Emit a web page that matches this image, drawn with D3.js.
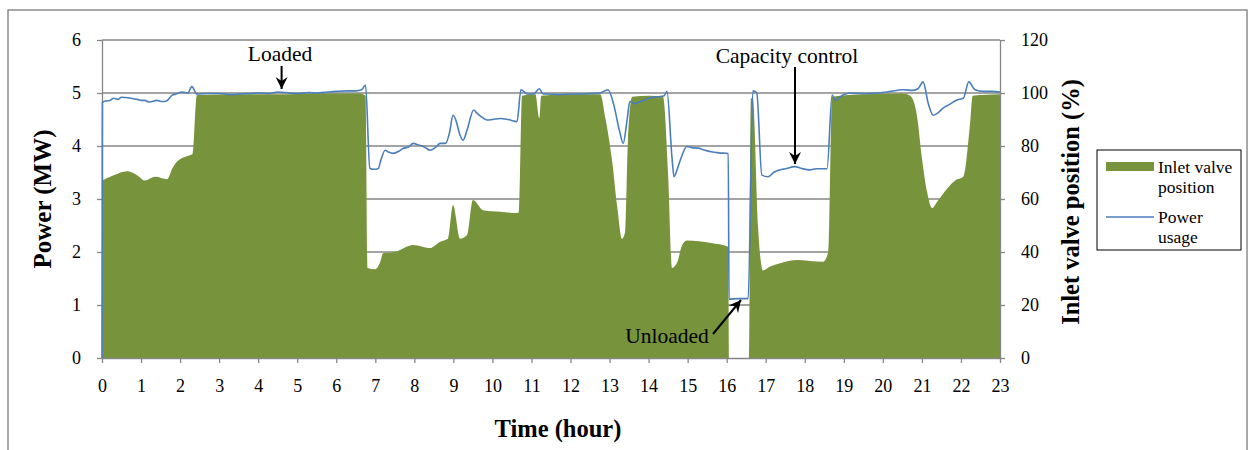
<!DOCTYPE html>
<html>
<head>
<meta charset="utf-8">
<script src="https://cdn.jsdelivr.net/npm/d3@7"></script>
<style>
  body { margin: 0; background: #fff; }
  svg text { font-family: "Liberation Serif", "Times New Roman", serif; fill: #000; }
</style>
</head>
<body>
<svg id="chart" width="1250" height="450"></svg>
<script>
// inlet valve position (%) - right axis
const valveHours = [0, 0.3, 0.64, 0.9, 1.1, 1.36, 1.67, 1.8, 1.95, 2.25, 2.32, 2.43, 3.5, 4.5, 5.5, 6.6, 6.75,
    6.8, 7.0, 7.12, 7.2, 7.5, 7.97, 8.2, 8.4, 8.66, 8.86, 8.99, 9.17, 9.35, 9.5, 9.76, 10.2, 10.63, 10.68,
    10.76, 11.1, 11.2, 11.25, 12.0, 12.76, 12.9, 13.06, 13.2, 13.32, 13.4, 13.47, 13.58, 14.0, 14.37, 14.5,
    14.6, 14.73, 14.86, 14.98, 15.6, 16.04, 16.06, 16.57, 16.62, 16.67, 16.8, 16.93, 17.1, 17.37, 17.8,
    18.47, 18.6, 18.7, 19.5, 20.5, 20.7, 20.87, 21.0, 21.13, 21.26, 21.39, 21.65, 21.85, 22.06, 22.23, 22.3, 23];
const valvePct = [67, 69, 70.5, 69, 67, 68.4, 67.5, 71.5, 74.5, 76.5, 77, 99.2, 99.5, 99.5, 99.8, 99.8, 99,
    34, 33.5, 36, 39.5, 40, 42.6, 42, 41.5, 43.9, 45, 57.7, 45, 46.4, 59.6, 55.8, 55.2, 54.7, 55,
    99, 99.5, 90.5, 99, 99.5, 99.5, 90, 75, 56.6, 45, 47.6, 81.6, 98.6, 99, 98.5, 69,
    34, 36, 42.6, 44.3, 43.4, 42, 0, 0, 98, 98, 50, 33, 34.4, 35.8, 37,
    36.3, 40, 98.6, 99.5, 99.8, 99, 91.7, 75.5, 62.8, 56.6, 59, 64, 67, 68.4, 88, 99, 99.5];

// power usage (MW) - left axis
const powerHours = [0, 0.01, 0.1, 0.2, 0.3, 0.4, 0.5, 0.67, 0.8, 0.9, 1.0, 1.1, 1.2, 1.28, 1.4, 1.54, 1.65, 1.8,
    1.9, 2.05, 2.2, 2.3, 2.43, 2.7, 3.0, 3.3, 3.5, 3.8, 4.0, 4.3, 4.5, 4.8, 5.0, 5.3, 5.5, 5.8, 6.0, 6.3, 6.5,
    6.65, 6.75, 6.86, 6.95, 7.07, 7.15, 7.25, 7.35, 7.45, 7.6, 7.7, 7.85, 7.97, 8.1, 8.2, 8.3, 8.4, 8.55,
    8.66, 8.8, 8.9, 8.99, 9.08, 9.15, 9.25, 9.35, 9.52, 9.6, 9.7, 9.86, 10.0, 10.2, 10.4, 10.63, 10.73, 10.9,
    11.05, 11.2, 11.3, 11.4, 11.7, 12.0, 12.3, 12.5, 12.75, 12.96, 13.1, 13.25, 13.35, 13.45, 13.52, 13.65,
    13.8, 14.0, 14.24, 14.4, 14.47, 14.6, 14.65, 14.75, 14.86, 14.98, 15.1, 15.27, 15.4, 15.6, 15.8, 16.04,
    16.06, 16.3, 16.55, 16.67, 16.77, 16.9, 17.06, 17.2, 17.37, 17.5, 17.75, 17.9, 18.13, 18.3, 18.57, 18.7,
    18.78, 19.0, 19.16, 19.5, 19.8, 20.1, 20.52, 20.77, 20.9, 21.03, 21.16, 21.29, 21.4, 21.55, 21.7, 21.9,
    22.06, 22.2, 22.36, 22.57, 22.8, 23];
const powerMW = [0, 4.82, 4.85, 4.86, 4.9, 4.88, 4.92, 4.91, 4.89, 4.88, 4.86, 4.86, 4.83, 4.84, 4.86, 4.84, 4.85, 4.96,
    4.98, 5.02, 5.0, 5.12, 4.98, 4.99, 4.99, 4.97, 4.98, 4.99, 5.0, 4.99, 5.02, 5.0, 4.99, 5.01, 5.0, 5.02, 5.03, 5.04, 5.04,
    5.06, 5.15, 3.58, 3.56, 3.57, 3.75, 3.92, 3.88, 3.86, 3.9, 3.95, 3.98, 4.05, 4.02, 4.0, 3.96, 3.92, 3.98,
    4.05, 4.05, 4.25, 4.58, 4.45, 4.25, 4.11, 4.3, 4.68, 4.62, 4.56, 4.49, 4.5, 4.52, 4.5, 4.46, 5.06, 4.98,
    4.98, 5.08, 4.98, 4.98, 4.97, 4.98, 4.98, 4.99, 5.0, 5.06, 4.8, 4.3, 4.05, 4.5, 4.84, 4.8,
    4.84, 4.9, 4.93, 4.95, 5.03, 3.77, 3.42, 3.6, 3.83, 3.99, 3.97, 3.96, 3.93, 3.89, 3.87, 3.86,
    1.11, 1.12, 1.12, 5.04, 5.0, 3.45, 3.42, 3.5, 3.55, 3.57, 3.61, 3.58, 3.55, 3.57, 3.57, 4.96,
    4.87, 4.97, 5.0, 4.99, 5.0, 5.02, 5.06, 5.05, 5.08, 5.21, 4.81, 4.58, 4.62, 4.72, 4.78, 4.87,
    4.9, 5.21, 5.06, 5.03, 5.03, 5.02];

const hourTicks = d3.range(0, 24);
const mwTicks = [0, 1, 2, 3, 4, 5, 6];
const pctTicks = [0, 20, 40, 60, 80, 100, 120];

const svg = d3.select('#chart');
const plotLeft = 102, plotRight = 1000, plotTop = 40, plotBottom = 358;

const x = d3.scaleLinear().domain([0, 23]).range([plotLeft, plotRight]);
const yMW = d3.scaleLinear().domain([0, 6]).range([plotBottom, plotTop]);
const yPct = d3.scaleLinear().domain([0, 120]).range([plotBottom, plotTop]);

// outer frame
svg.append('rect')
    .attr('x', 8).attr('y', 10)
    .attr('width', 1239).attr('height', 460)
    .attr('fill', 'none')
    .attr('stroke', '#8c8c8c')
    .attr('stroke-width', 1.5);

// gridlines
svg.append('g').selectAll('line')
    .data(mwTicks.slice(1))
    .join('line')
    .attr('x1', plotLeft).attr('x2', plotRight)
    .attr('y1', d => yMW(d)).attr('y2', d => yMW(d))
    .attr('stroke', '#868686')
    .attr('stroke-width', 1.3);

// valve area
const valve = valveHours.map((h, i) => [h, valvePct[i]]);
svg.append('path')
    .datum(valve)
    .attr('fill', '#77933c')
    .attr('d', d3.area()
        .x(d => x(d[0]))
        .y0(yPct(0))
        .y1(d => yPct(d[1]))
        .curve(d3.curveMonotoneX));

// axes
function styleAxis(g) {
    g.select('.domain').attr('stroke', '#868686').attr('stroke-width', 1.3);
    g.selectAll('.tick line').attr('stroke', '#868686').attr('stroke-width', 1.3);
    g.selectAll('.tick text')
        .attr('font-size', '18px')
        .attr('font-family', '"Liberation Serif", "Times New Roman", serif')
        .attr('fill', '#000');
}

svg.append('g')
    .attr('transform', `translate(${plotLeft},0)`)
    .call(d3.axisLeft(yMW).tickValues(mwTicks).tickFormat(d3.format('d'))
        .tickSize(5).tickSizeOuter(0).tickPadding(16))
    .call(styleAxis);

svg.append('g')
    .attr('transform', `translate(${plotRight},0)`)
    .call(d3.axisRight(yPct).tickValues(pctTicks).tickSize(5).tickSizeOuter(0).tickPadding(16))
    .call(styleAxis);

svg.append('g')
    .attr('transform', `translate(0,${plotBottom})`)
    .call(d3.axisBottom(x).tickValues(hourTicks).tickSize(5).tickSizeOuter(0).tickPadding(16))
    .call(styleAxis);

// power line
const power = powerHours.map((h, i) => [h, powerMW[i]]);
svg.append('path')
    .datum(power)
    .attr('fill', 'none')
    .attr('stroke', '#4a7ebb')
    .attr('stroke-width', 1.6)
    .attr('d', d3.line().x(d => x(d[0])).y(d => yMW(d[1])).curve(d3.curveMonotoneX));

// axis titles
svg.append('text')
    .attr('transform', 'translate(51,199) rotate(-90)')
    .attr('text-anchor', 'middle')
    .attr('font-size', '25px')
    .attr('font-weight', 'bold')
    .text('Power (MW)');

svg.append('text')
    .attr('transform', 'translate(1079,202) rotate(-90)')
    .attr('text-anchor', 'middle')
    .attr('font-size', '24.5px')
    .attr('font-weight', 'bold')
    .text('Inlet valve position (%)');

svg.append('text')
    .attr('x', 558).attr('y', 437)
    .attr('text-anchor', 'middle')
    .attr('font-size', '24.5px')
    .attr('font-weight', 'bold')
    .text('Time (hour)');

// annotations
svg.append('defs').append('marker')
    .attr('id', 'head')
    .attr('markerUnits', 'userSpaceOnUse')
    .attr('markerWidth', 14).attr('markerHeight', 14)
    .attr('refX', 12).attr('refY', 7)
    .attr('orient', 'auto')
    .append('path')
    .attr('d', 'M0,1 L12,7 L0,13 L4,7 Z')
    .attr('fill', '#000');

function note(label, tx, ty, x1, y1, x2, y2) {
    svg.append('text')
        .attr('x', tx).attr('y', ty)
        .attr('text-anchor', 'middle')
        .attr('font-size', '21.5px')
        .text(label);
    svg.append('line')
        .attr('x1', x1).attr('y1', y1)
        .attr('x2', x2).attr('y2', y2)
        .attr('stroke', '#000')
        .attr('stroke-width', 2)
        .attr('marker-end', 'url(#head)');
}
note('Loaded', 280, 61, x(4.6), 66, x(4.6), 89);
note('Capacity control', 787, 63, x(17.75), 67, x(17.75), 164);
note('Unloaded', 667, 343, 713, 334, 741, 300);

// legend
const lg = svg.append('g');
lg.append('rect')
    .attr('x', 1097).attr('y', 150)
    .attr('width', 144).attr('height', 100)
    .attr('fill', '#fff')
    .attr('stroke', '#000')
    .attr('stroke-width', 1);
lg.append('rect')
    .attr('x', 1106).attr('y', 162)
    .attr('width', 48).attr('height', 9)
    .attr('fill', '#77933c');
lg.append('line')
    .attr('x1', 1106).attr('x2', 1154)
    .attr('y1', 217).attr('y2', 217)
    .attr('stroke', '#4a7ebb')
    .attr('stroke-width', 1.6);
const legendLines = [['Inlet valve', 173], ['position', 193], ['Power', 223], ['usage', 243]];
lg.selectAll('text.lab')
    .data(legendLines)
    .join('text')
    .attr('class', 'lab')
    .attr('x', 1158)
    .attr('y', d => d[1])
    .attr('font-size', '17.5px')
    .text(d => d[0]);
</script>
</body>
</html>
